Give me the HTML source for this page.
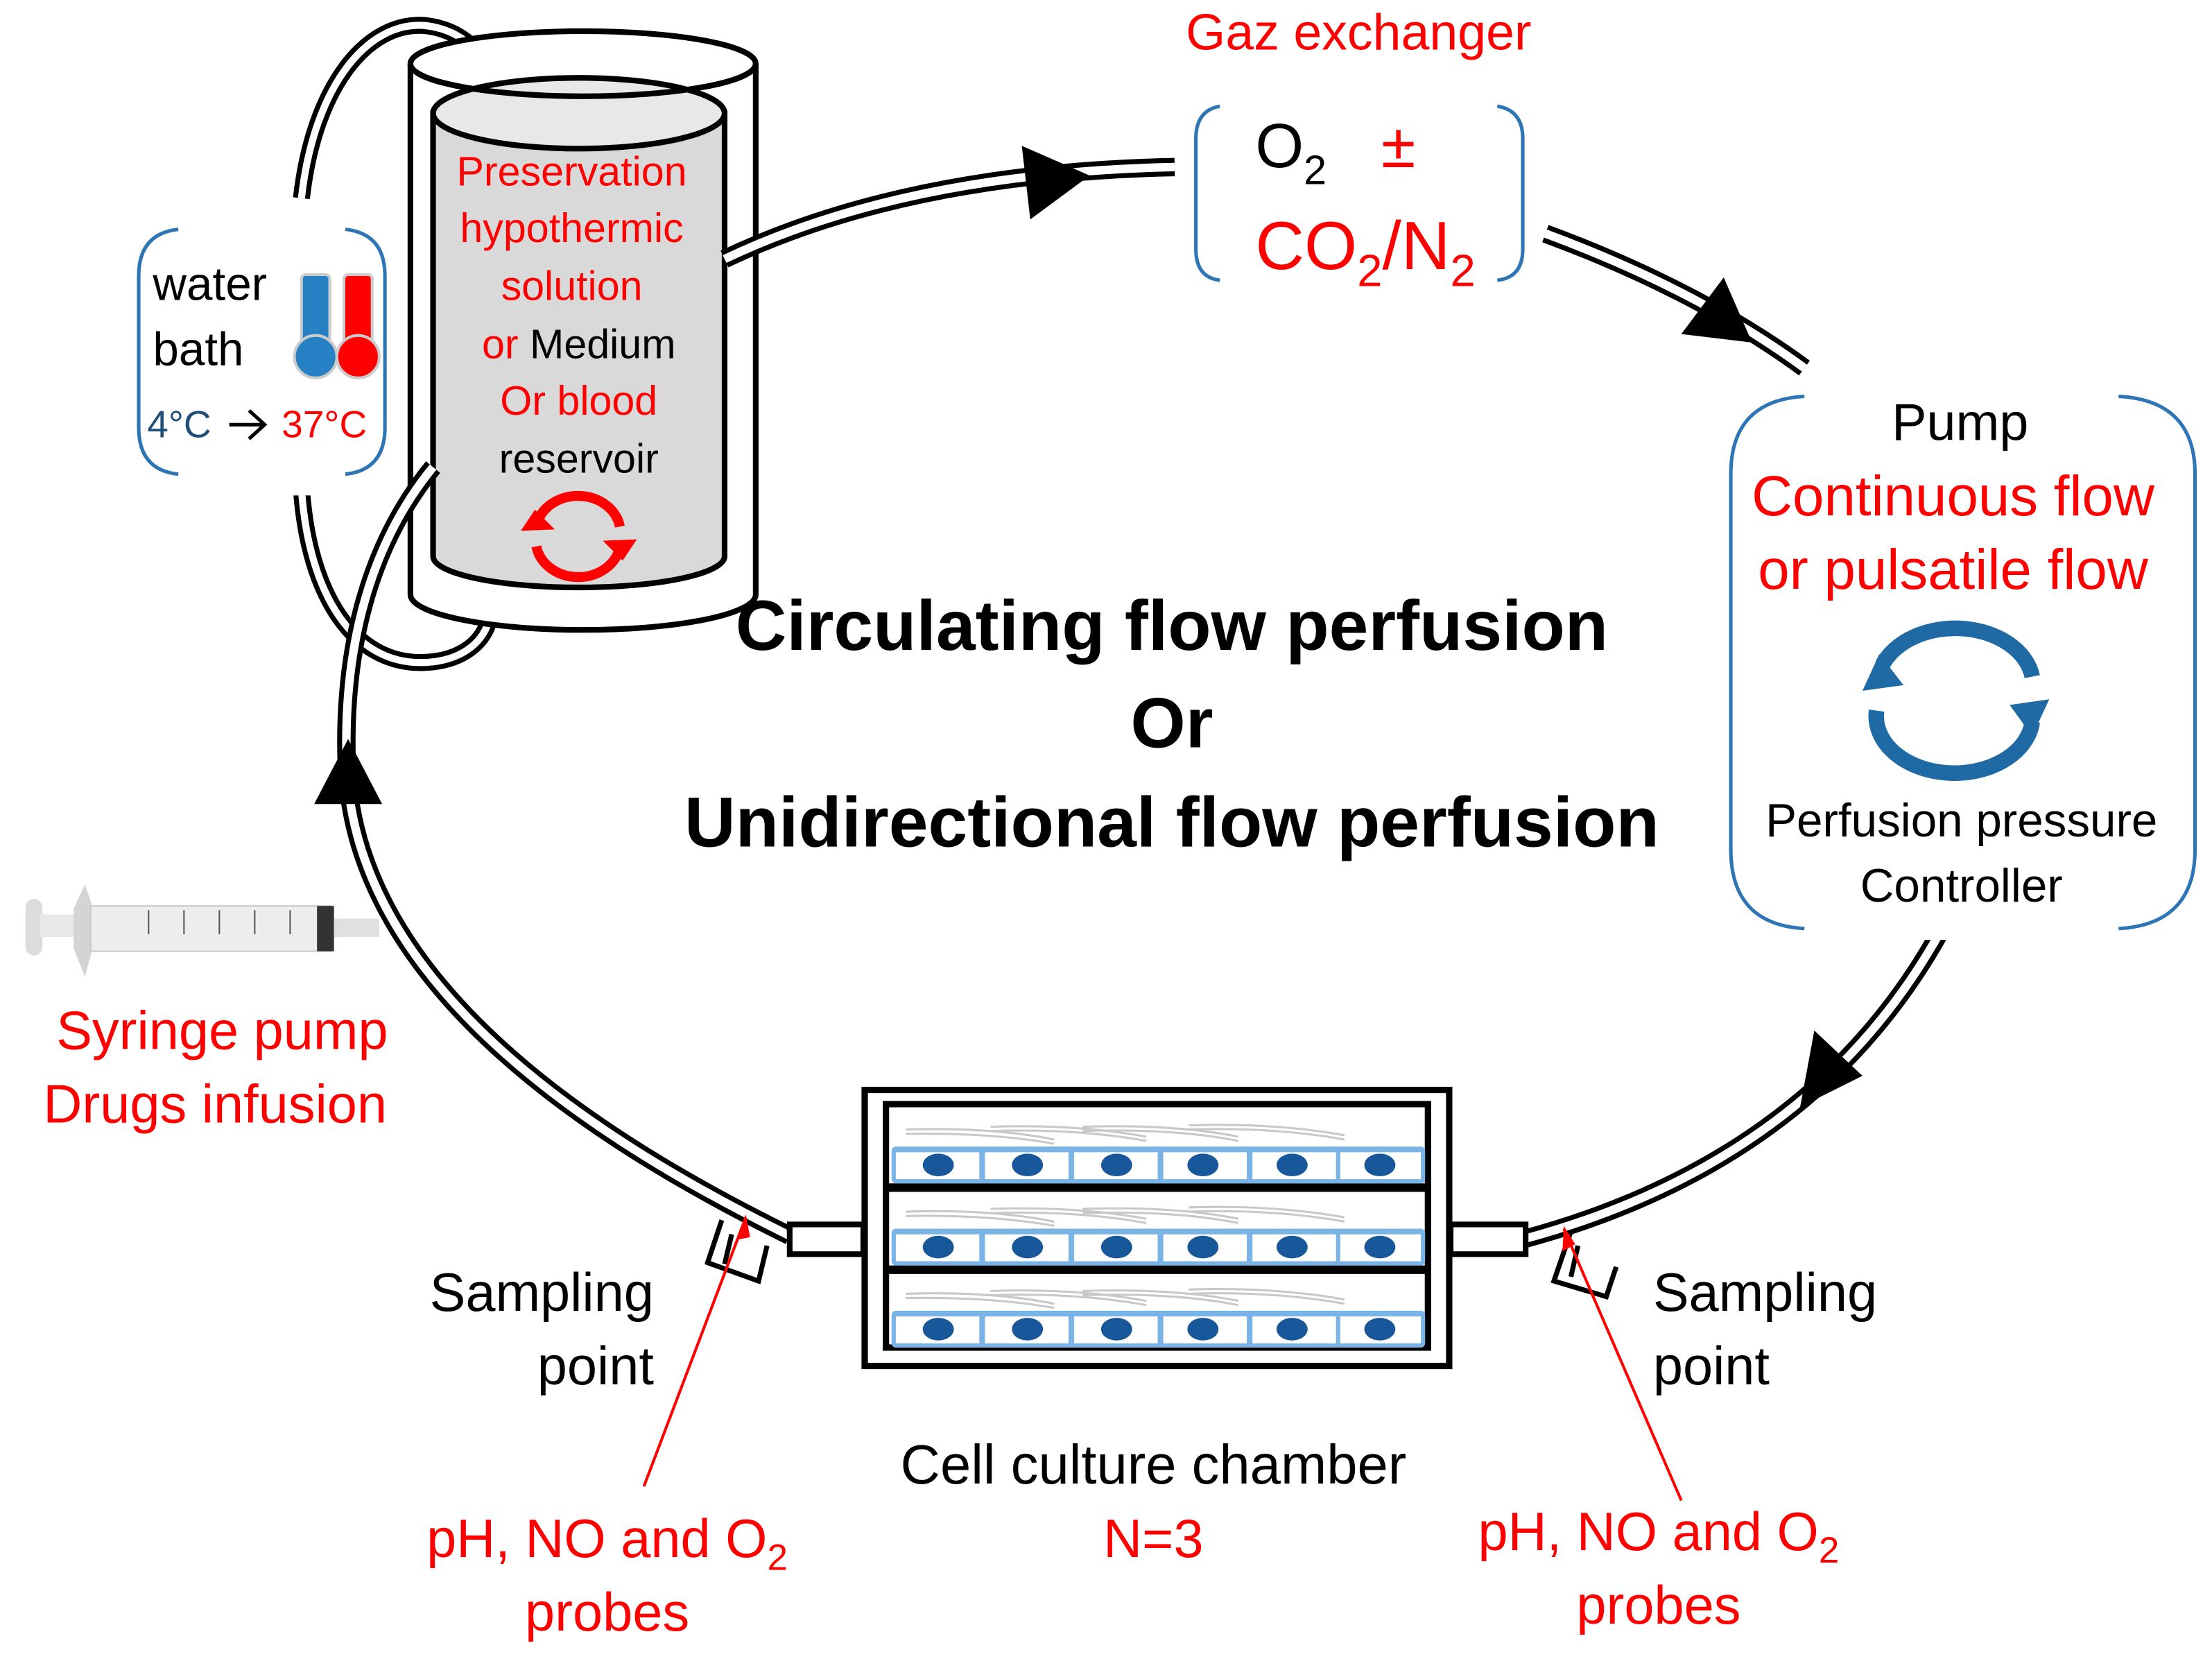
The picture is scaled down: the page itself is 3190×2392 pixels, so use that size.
<!DOCTYPE html>
<html><head><meta charset="utf-8"><style>
html,body{margin:0;padding:0;background:#fff;}
svg{display:block;}
text{font-family:"Liberation Sans",sans-serif;}
</style></head><body>
<svg width="3190" height="2392" viewBox="0 0 1563 1172" xmlns="http://www.w3.org/2000/svg">
<rect width="1563" height="1172" fill="#fff"/>
<!-- water bath loop tubes -->
<g fill="none" stroke-linecap="butt">
<path d="M213,140 C222,60 260,15 300,18 C318,20 330,28 338,38" stroke="#000" stroke-width="12"/>
<path d="M213,140 C222,60 260,15 300,18 C318,20 330,28 338,38" stroke="#fff" stroke-width="5"/>
<path d="M213,345 C218,420 250,470 300,468 C325,467 340,455 345,440" stroke="#000" stroke-width="12"/>
<path d="M213,345 C218,420 250,470 300,468 C325,467 340,455 345,440" stroke="#fff" stroke-width="5"/>
</g>
<!-- outer cylinder -->
<path d="M290,45 L290,420 A122,25 0 0 0 534,420 L534,45" fill="#fff" stroke="#000" stroke-width="4"/>
<ellipse cx="412" cy="45" rx="122" ry="23" fill="#fff" stroke="#000" stroke-width="4"/>
<!-- inner cylinder -->
<path d="M306,80 L306,393 A103,22 0 0 0 512,393 L512,80 Z" fill="#d9d9d9" stroke="#000" stroke-width="4"/>
<ellipse cx="409" cy="80" rx="103" ry="25" fill="#e8e8e8" stroke="#000" stroke-width="4"/>
<path d="M290,45 A122,23 0 0 0 534,45" fill="none" stroke="#000" stroke-width="4"/>
<!-- main tubes -->
<g fill="none">
<path d="M512,183 Q640,122 830,118" stroke="#000" stroke-width="13"/>
<path d="M512,183 Q640,122 830,118" stroke="#fff" stroke-width="6"/>
<path d="M1092,165 Q1200,205 1275,260" stroke="#000" stroke-width="13"/>
<path d="M1092,165 Q1200,205 1275,260" stroke="#fff" stroke-width="6"/>
<path d="M1370,660 Q1280,820 1078,875" stroke="#000" stroke-width="13"/>
<path d="M1370,660 Q1280,820 1078,875" stroke="#fff" stroke-width="6"/>
<path d="M558,873 C430,810 250,700 245,540 C242,450 265,380 306,330" stroke="#000" stroke-width="13"/>
<path d="M558,873 C430,810 250,700 245,540 C242,450 265,380 306,330" stroke="#fff" stroke-width="6"/>
</g>
<!-- arrows -->
<polygon points="770,124 722,103 728,155" fill="#000"/>
<polygon points="1238,242 1188,236 1218,196" fill="#000"/>
<polygon points="1272,782 1316,760 1282,728" fill="#000"/>
<polygon points="246,522 222,568 270,568" fill="#000"/>
<!-- reservoir text -->
<g font-size="29" text-anchor="middle" fill="#ff0000">
<text x="404" y="131">Preservation</text>
<text x="404" y="171">hypothermic</text>
<text x="404" y="212">solution</text>
<text x="409" y="253"><tspan fill="#ff0000">or </tspan><tspan fill="#000">Medium</tspan></text>
<text x="409" y="293">Or blood</text>
<text x="409" y="334" fill="#000">reservoir</text>
</g>
<g fill="none" stroke="#ff0000" stroke-width="7">
<path d="M380,368 A30,26 0 0 1 438,372"/>
<path d="M437,390 A30,26 0 0 1 379,386"/>
</g>
<polygon points="368,375 392,374 378,360" fill="#ff0000"/>
<polygon points="450,381 426,382 440,396" fill="#ff0000"/>
<!-- water bath box -->
<rect x="96" y="150" width="180" height="200" fill="#fff"/>
<g fill="none" stroke="#2e75b6" stroke-width="2.5">
<path d="M126,162 Q98,165 98,195 L98,302 Q98,332 126,335"/>
<path d="M244,162 Q272,165 272,195 L272,302 Q272,332 244,335"/>
</g>
<text x="108" y="212" font-size="33">water</text>
<text x="108" y="258" font-size="33">bath</text>
<text x="104" y="309" font-size="27" fill="#1f4e79">4°C</text>
<path d="M162,300 L186,300 M176,290 L187,300 L176,310" stroke="#000" stroke-width="2.5" fill="none"/>
<text x="199" y="309" font-size="27" fill="#ff0000">37°C</text>
<rect x="213" y="194" width="20" height="60" rx="3" fill="#2581c4" stroke="#ccc" stroke-width="2"/>
<circle cx="223" cy="252" r="15" fill="#2581c4" stroke="#ccc" stroke-width="2"/>
<rect x="243" y="194" width="20" height="60" rx="3" fill="#ff0000" stroke="#ccc" stroke-width="2"/>
<circle cx="253" cy="252" r="15" fill="#ff0000" stroke="#ccc" stroke-width="2"/>
<!-- gas exchanger -->
<text x="960" y="35" font-size="36" fill="#ff0000" text-anchor="middle">Gaz exchanger</text>
<rect x="840" y="72" width="242" height="130" fill="#fff"/>
<g fill="none" stroke="#2e75b6" stroke-width="2.5">
<path d="M862,75 Q845,78 845,98 L845,176 Q845,196 862,198"/>
<path d="M1058,75 Q1076,78 1076,98 L1076,176 Q1076,196 1058,198"/>
</g>
<text x="887" y="118" font-size="44">O<tspan font-size="29" dy="12">2</tspan></text>
<text x="976" y="118" font-size="44" fill="#ff0000">±</text>
<text x="887" y="190" font-size="48" fill="#ff0000">CO<tspan font-size="32" dy="12">2</tspan><tspan dy="-12">/N</tspan><tspan font-size="32" dy="12">2</tspan></text>
<!-- pump box -->
<rect x="1218" y="272" width="340" height="392" fill="#fff"/>
<g fill="none" stroke="#2e75b6" stroke-width="2.5">
<path d="M1275,280 Q1223,283 1223,335 L1223,600 Q1223,653 1275,656"/>
<path d="M1497,280 Q1551,283 1551,335 L1551,600 Q1551,653 1497,656"/>
</g>
<text x="1385" y="311" font-size="37" text-anchor="middle">Pump</text>
<text x="1380" y="364" font-size="40" text-anchor="middle" fill="#ff0000">Continuous flow</text>
<text x="1380" y="416" font-size="40" text-anchor="middle" fill="#ff0000">or pulsatile flow</text>
<g fill="none" stroke="#1f6aa5" stroke-width="11">
<path d="M1330,470 A55,40 0 0 1 1436,478"/>
<path d="M1436,510 A55,40 0 0 1 1326,502"/>
</g>
<polygon points="1316,488 1345,484 1328,462" fill="#1f6aa5"/>
<polygon points="1448,494 1420,498 1436,520" fill="#1f6aa5"/>
<text x="1386" y="591" font-size="33" text-anchor="middle">Perfusion pressure</text>
<text x="1386" y="637" font-size="33" text-anchor="middle">Controller</text>
<!-- center titles -->
<g font-size="50" font-weight="bold" text-anchor="middle">
<text x="828" y="459">Circulating flow perfusion</text>
<text x="828" y="528">Or</text>
<text x="828" y="598">Unidirectional flow perfusion</text>
</g>
<!-- chamber connectors -->
<rect x="558" y="865" width="52" height="21" fill="#fff" stroke="#000" stroke-width="4"/>
<rect x="1025" y="865" width="53" height="21" fill="#fff" stroke="#000" stroke-width="4"/>
<!-- chamber -->
<rect x="611" y="770" width="413" height="195" fill="#fff" stroke="#000" stroke-width="4.5"/>
<rect x="626" y="780" width="383" height="172" fill="#fff" stroke="#000" stroke-width="4.5"/>
<rect x="626" y="836" width="383" height="6" fill="#000"/>
<rect x="626" y="894" width="383" height="6" fill="#000"/>
<g id="row">
<g fill="none" stroke="#c8c8c8" stroke-width="1.5">
<path d="M640,798 Q700,796 745,805"/><path d="M640,801 Q700,800 745,808"/>
<path d="M700,796 Q760,794 810,803"/><path d="M700,799 Q760,797 810,806"/>
<path d="M765,796 Q830,794 875,803"/><path d="M765,799 Q830,797 875,806"/>
<path d="M840,795 Q900,793 950,802"/><path d="M840,798 Q900,796 950,805"/>
</g>
<rect x="630" y="810" width="377" height="26" rx="3" fill="#7ab3e5"/>
<g fill="#fff">
<rect x="633" y="814" width="59" height="19"/><rect x="696" y="814" width="59" height="19"/>
<rect x="759" y="814" width="59" height="19"/><rect x="822" y="814" width="59" height="19"/>
<rect x="885" y="814" width="59" height="19"/><rect x="947" y="814" width="57" height="19"/>
</g>
<g fill="#17579a">
<ellipse cx="663" cy="823" rx="11" ry="8"/><ellipse cx="726" cy="823" rx="11" ry="8"/>
<ellipse cx="789" cy="823" rx="11" ry="8"/><ellipse cx="850" cy="823" rx="11" ry="8"/>
<ellipse cx="913" cy="823" rx="11" ry="8"/><ellipse cx="975" cy="823" rx="11" ry="8"/>
</g>
</g>
<use href="#row" y="58"/>
<use href="#row" y="116"/>
<!-- sampling hooks -->
<g fill="none" stroke="#000" stroke-width="3.5">
<path d="M510,862 L500,892 L536,905 L542,880"/>
<path d="M517,872 L512,893"/>
<path d="M1110,870 L1098,905 L1135,916 L1142,895"/>
<path d="M1115,880 L1110,902"/>
</g>
<line x1="527" y1="860" x2="455" y2="1050" stroke="#ff0000" stroke-width="2"/>
<polygon points="527,858 520,876 530,874" fill="#ff0000"/>
<line x1="1105" y1="868" x2="1188" y2="1060" stroke="#ff0000" stroke-width="2"/>
<polygon points="1105,866 1104,884 1113,879" fill="#ff0000"/>
<!-- syringe -->
<g>
<rect x="18" y="635" width="12" height="40" rx="6" fill="#dcdcdc"/>
<rect x="28" y="646" width="30" height="16" fill="#e8e8e8"/>
<path d="M52,642 L60,625 L66,642 L66,668 L60,690 L52,670 Z" fill="#d4d4d4"/>
<rect x="64" y="640" width="170" height="32" fill="#ededed" stroke="#c8c8c8" stroke-width="1"/>
<rect x="224" y="640" width="12" height="32" fill="#333"/>
<rect x="236" y="649" width="32" height="13" fill="#e0e0e0"/>
<g stroke="#555" stroke-width="1">
<line x1="105" y1="643" x2="105" y2="660"/><line x1="130" y1="643" x2="130" y2="660"/>
<line x1="155" y1="643" x2="155" y2="660"/><line x1="180" y1="643" x2="180" y2="660"/>
<line x1="205" y1="643" x2="205" y2="660"/>
</g>
</g>
<text x="157" y="741" font-size="38" text-anchor="middle" fill="#ff0000">Syringe pump</text>
<text x="152" y="793" font-size="38" text-anchor="middle" fill="#ff0000">Drugs infusion</text>
<!-- labels bottom -->
<text x="462" y="926" font-size="38" text-anchor="end">Sampling</text>
<text x="462" y="978" font-size="38" text-anchor="end">point</text>
<text x="1168" y="926" font-size="38">Sampling</text>
<text x="1168" y="978" font-size="38">point</text>
<text x="429" y="1100" font-size="38" text-anchor="middle" fill="#ff0000">pH, NO and O<tspan font-size="26" dy="9">2</tspan></text>
<text x="429" y="1152" font-size="38" text-anchor="middle" fill="#ff0000">probes</text>
<text x="1172" y="1095" font-size="38" text-anchor="middle" fill="#ff0000">pH, NO and O<tspan font-size="26" dy="9">2</tspan></text>
<text x="1172" y="1147" font-size="38" text-anchor="middle" fill="#ff0000">probes</text>
<text x="815" y="1048" font-size="39" text-anchor="middle">Cell culture chamber</text>
<text x="815" y="1100" font-size="38" text-anchor="middle" fill="#ff0000">N=3</text>
</svg>
</body></html>
